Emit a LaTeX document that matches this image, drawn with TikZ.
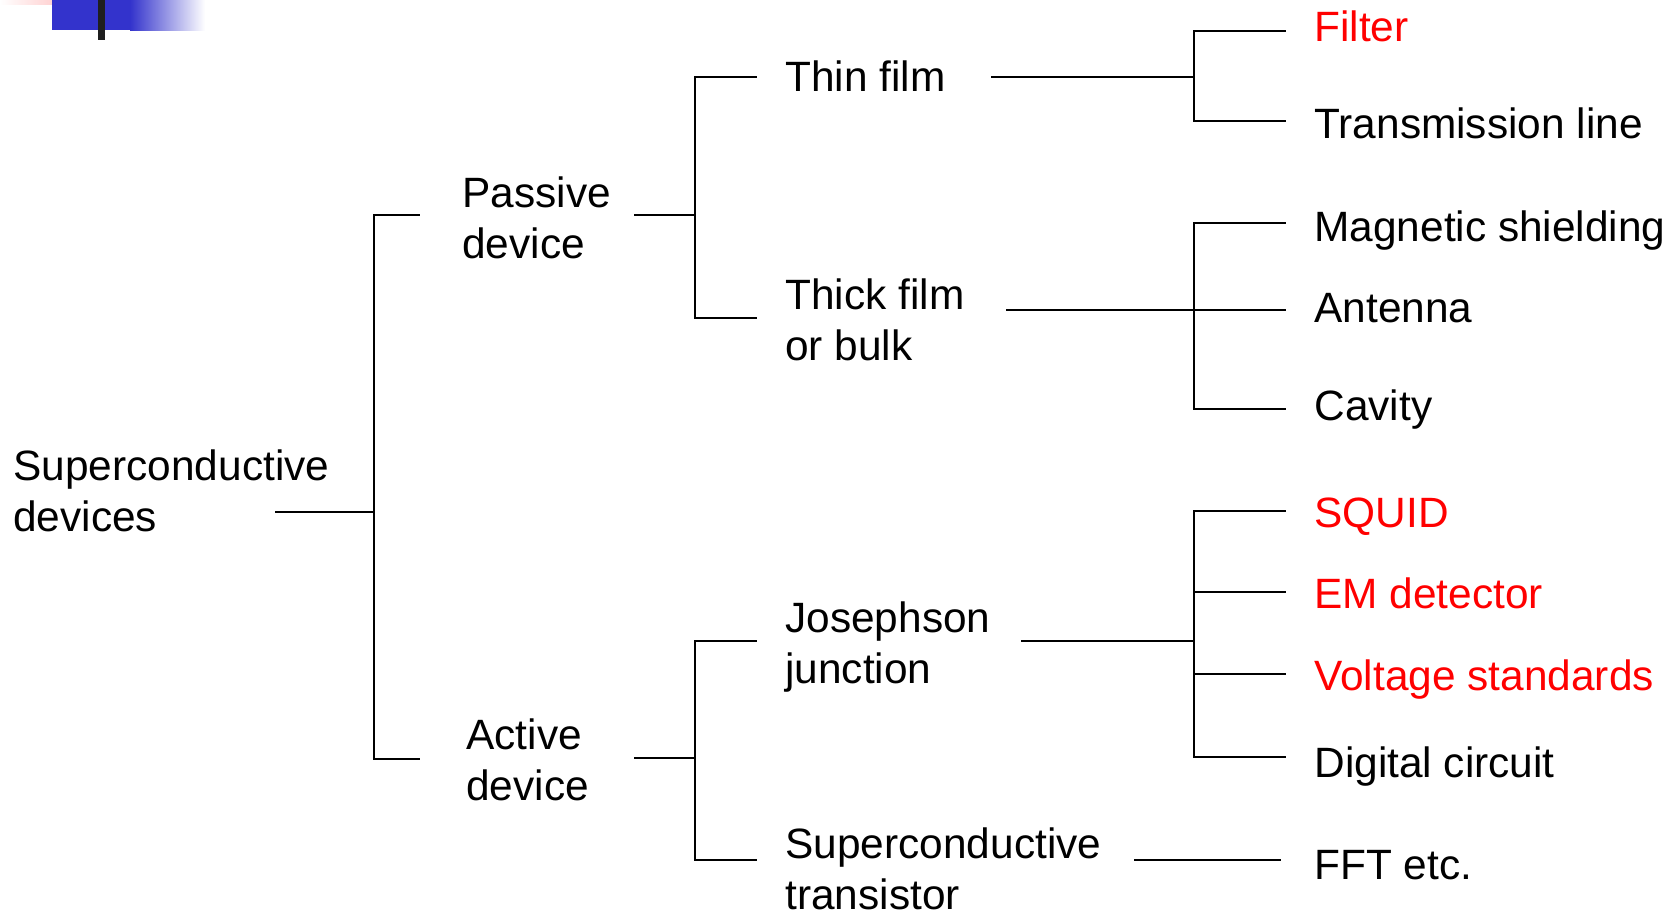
\documentclass[tikz,border=0pt]{standalone}
\usepackage{fontspec}
\setmainfont{Liberation Sans}
\definecolor{hdblue}{RGB}{51,51,204}
\definecolor{hdpink}{RGB}{255,185,185}
\definecolor{hdred}{RGB}{255,0,0}
\begin{document}
\begin{tikzpicture}[x=0.5pt,y=-0.5pt,
  lbl/.style={anchor=west,inner sep=0pt,align=left,font=\fontsize{21.2pt}{25.5pt}\selectfont},
  leaf/.style={lbl,text height=15pt,text depth=0pt},
  hot/.style={text=hdred},
  conn/.style={line width=1.25pt,line cap=rect}]
\useasboundingbox (0,0) rectangle (1676,913);
% header decoration
\shade[left color=white,right color=hdpink] (0,0) rectangle (83,5);
\fill[hdblue] (52,0) rectangle (131,30);
\shade[left color=hdblue,right color=white] (130,0) rectangle (205,31);
\fill[black!88] (98,0) rectangle (105,40);
% labels
\node[lbl] (root) at (13,491) {Superconductive\\devices};
\node[lbl] (pas) at (462,218) {Passive\\device};
\node[lbl] (act) at (466,760) {Active\\device};
\node[leaf] (thin) at (785,77) {Thin film};
\node[lbl] (thick) at (785,320) {Thick film\\or bulk};
\node[lbl] (jj) at (785,647) {Josephson\\junction};
\node[lbl] (sct) at (785,869) {Superconductive\\transistor};
\node[leaf,hot] (filter) at (1314,27) {Filter};
\node[leaf] (trans) at (1314,124) {Transmission line};
\node[leaf] (mag) at (1314,227) {Magnetic shielding};
\node[leaf] (ant) at (1314,308) {Antenna};
\node[leaf] (cav) at (1314,406) {Cavity};
\node[leaf,hot] (squid) at (1314,513) {SQUID};
\node[leaf,hot] (em) at (1314,594) {EM detector};
\node[leaf,hot] (volt) at (1314,676) {Voltage standards};
\node[leaf] (dig) at (1314,763) {Digital circuit};
\node[leaf] (fft) at (1314,864) {FFT etc.};
% connector points
\coordinate (r0) at (276,512); \coordinate (r1) at (374,512);
\coordinate (p0) at (419,215); \coordinate (a0) at (419,759);
\coordinate (p1) at (635,215); \coordinate (p2) at (695,215);
\coordinate (t0) at (756,77); \coordinate (k0) at (756,318);
\coordinate (a1) at (635,758); \coordinate (a2) at (695,758);
\coordinate (j0) at (756,641); \coordinate (s0) at (756,860);
\coordinate (t1) at (992,77); \coordinate (t2) at (1194,77);
\coordinate (f0) at (1285,31); \coordinate (tl0) at (1285,121);
\coordinate (k1) at (1007,310); \coordinate (k2) at (1285,310);
\coordinate (m0) at (1285,223); \coordinate (c0) at (1285,409);
\coordinate (j1) at (1022,641); \coordinate (j2) at (1194,641);
\coordinate (q0) at (1285,511); \coordinate (e0) at (1285,592);
\coordinate (v0) at (1285,674); \coordinate (d0) at (1285,757);
\coordinate (s1) at (1135,860); \coordinate (s2) at (1280,860);
% connectors
\draw[conn] (r0) -- (r1);
\draw[conn] (p0) -| (r1) |- (a0);
\draw[conn] (p1) -- (p2);
\draw[conn] (t0) -| (p2) |- (k0);
\draw[conn] (a1) -- (a2);
\draw[conn] (j0) -| (a2) |- (s0);
\draw[conn] (t1) -- (t2);
\draw[conn] (f0) -| (t2) |- (tl0);
\draw[conn] (k1) -- (k2);
\draw[conn] (m0) -| (1194,310) |- (c0);
\draw[conn] (j1) -- (j2);
\draw[conn] (q0) -| (j2) |- (d0);
\draw[conn] (1194,592) -- (e0);
\draw[conn] (1194,674) -- (v0);
\draw[conn] (s1) -- (s2);
\end{tikzpicture}
\end{document}
